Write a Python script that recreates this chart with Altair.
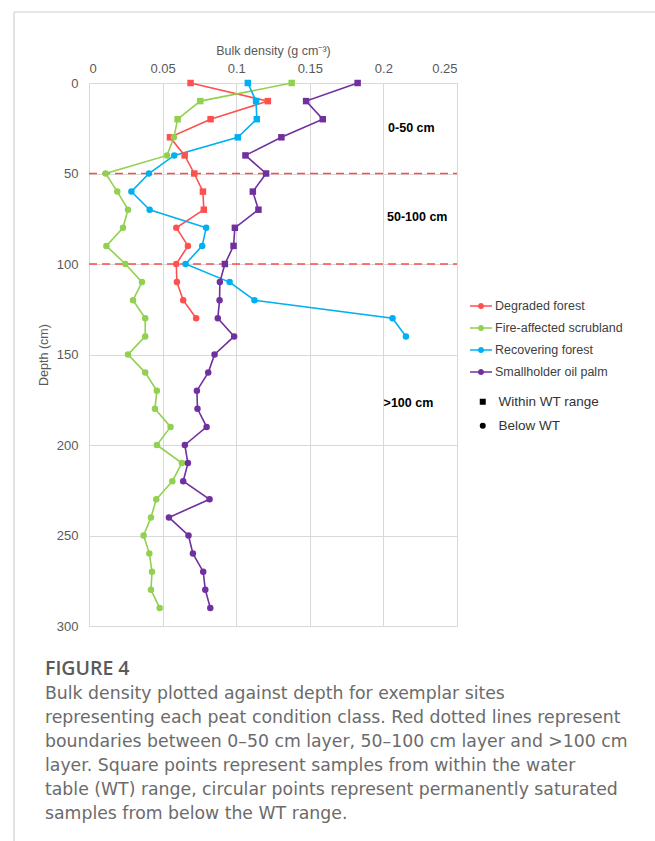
import altair as alt
import pandas as pd

# ---- data -----------------------------------------------------------------
site_names = ["Degraded forest", "Fire-affected scrubland",
              "Recovering forest", "Smallholder oil palm"]
site_colors = ["#FF5050", "#92D050", "#00B0F0", "#7030A0"]

depth_step = 10  # cm between consecutive samples, starting at the surface

degraded_bd = [0.069, 0.1215, 0.0826, 0.055, 0.065, 0.0715, 0.0774, 0.078,
               0.0593, 0.0672, 0.0593, 0.0597, 0.064, 0.0728]
fire_bd = [0.1377, 0.0756, 0.0602, 0.0577, 0.053, 0.0113, 0.0192, 0.0265,
           0.0231, 0.0118, 0.0247, 0.036, 0.0299, 0.0382, 0.0382, 0.0265,
           0.0382, 0.0461, 0.0448, 0.0554, 0.0461, 0.0631, 0.0566, 0.0457,
           0.0421, 0.0371, 0.041, 0.0428, 0.0421, 0.048]
recovering_bd = [0.1079, 0.1135, 0.114, 0.1011, 0.0579, 0.0407, 0.0288,
                 0.0412, 0.0796, 0.0769, 0.0656, 0.0955, 0.1124, 0.2062,
                 0.2153]
oilpalm_bd = [0.1825, 0.1475, 0.1588, 0.1307, 0.1063, 0.1203, 0.1113, 0.1151,
              0.0991, 0.0982, 0.0923, 0.0889, 0.0887, 0.0875, 0.0986, 0.0853,
              0.081, 0.0733, 0.0737, 0.0799, 0.0651, 0.0672, 0.064, 0.0819,
              0.0543, 0.0676, 0.0706, 0.0776, 0.079, 0.0824]

# deepest sample (cm) that still lies within the water-table range, per site
wt_lower_depth = [70, 20, 30, 100]

wt_classes = ["Within WT range", "Below WT"]

layer_bounds = [50, 100]
layer_labels = ["0-50 cm", "50-100 cm", ">100 cm"]
layer_label_depth = [25, 74, 177]
layer_label_bd = [0.219, 0.223, 0.217]

x_ticks = [0, 0.05, 0.1, 0.15, 0.2, 0.25]
y_ticks = [0, 50, 100, 150, 200, 250, 300]

caption_title = "FIGURE 4"
caption_lines = [
    "Bulk density plotted against depth for exemplar sites",
    "representing each peat condition class. Red dotted lines represent",
    "boundaries between 0\u201350 cm layer, 50\u2013100 cm layer and >100 cm",
    "layer. Square points represent samples from within the water",
    "table (WT) range, circular points represent permanently saturated",
    "samples from below the WT range.",
]

# ---- tidy table -----------------------------------------------------------
rows = []
for name, values, wt_low in zip(site_names,
                                [degraded_bd, fire_bd, recovering_bd, oilpalm_bd],
                                wt_lower_depth):
    for i, v in enumerate(values):
        d = i * depth_step
        rows.append({"site": name, "depth": d, "bd": v,
                     "wt": wt_classes[0] if d <= wt_low else wt_classes[1]})
df = pd.DataFrame(rows)

bounds_df = pd.DataFrame({"depth": layer_bounds})
labels_df = pd.DataFrame({"label": layer_labels, "depth": layer_label_depth,
                          "bd": layer_label_bd})

# ---- layout ---------------------------------------------------------------
W, H = 368, 543
PAD = {"left": 89, "top": 83, "right": 198, "bottom": 215}
FONT = "Liberation Sans"
CAPTION_FONT = "Open Sans"
CAPTION_BODY_FONT = "DejaVu Sans"
GRID = "#d9d9d9"

x_scale = alt.Scale(domain=[0, 0.25], nice=False, zero=True)
y_scale = alt.Scale(domain=[0, 300], nice=False, reverse=True)

x_enc = alt.X("bd:Q", scale=x_scale,
              axis=alt.Axis(orient="top", values=x_ticks, format="~g",
                            title="Bulk density (g cm\u207b\u00b3)",
                            titlePadding=5, labelPadding=8))
y_enc = alt.Y("depth:Q", scale=y_scale,
              axis=alt.Axis(orient="left", values=y_ticks,
                            title="Depth (cm)", titlePadding=6,
                            labelPadding=11))

color_scale = alt.Scale(domain=site_names, range=site_colors)
shape_scale = alt.Scale(domain=wt_classes, range=["square", "circle"])

# legend symbol: a thin bar (the line) with a dot in the middle
line_dot = ("M-1,-0.065H1V0.065H-1Z"
            "M0.28,0A0.28,0.28,0,1,1,-0.28,0A0.28,0.28,0,1,1,0.28,0Z")

site_legend = alt.Legend(
    title=None, orient="none", legendX=381, legendY=212,
    symbolType=line_dot, symbolSize=484, symbolStrokeWidth=0,
    labelFont=FONT, labelFontSize=12.5, labelColor="#404040",
    labelOffset=3, rowPadding=4, padding=0,
)

page_frame = alt.Chart(pd.DataFrame({"k": [0]})).mark_rule(
    color="#d2d2d2", strokeWidth=1.2
)
frame_top = page_frame.encode(x=alt.value(-75), x2=alt.value(566),
                              y=alt.value(-71))
frame_left = page_frame.encode(x=alt.value(-75), y=alt.value(-71),
                               y2=alt.value(758))

bound_rules = alt.Chart(bounds_df).mark_rule(
    color="#FF4A4A", strokeWidth=1.3, strokeDash=[8, 5]
).encode(y=alt.Y("depth:Q", scale=y_scale), x=alt.value(0), x2=alt.value(W))

lines = alt.Chart(df).mark_line(strokeWidth=1.6).encode(
    x=x_enc, y=y_enc,
    color=alt.Color("site:N", scale=color_scale, sort=site_names,
                    legend=site_legend),
    order=alt.Order("depth:Q"),
)

points = alt.Chart(df).mark_point(filled=True, opacity=1, size=42).encode(
    x=x_enc, y=y_enc,
    color=alt.Color("site:N", scale=color_scale, sort=site_names,
                    legend=site_legend),
    shape=alt.Shape("wt:N", scale=shape_scale, sort=wt_classes,
                    legend=alt.Legend(
                        title=None, orient="none", legendX=387, legendY=312,
                        symbolSize=36, symbolFillColor="black",
                        symbolStrokeColor="black", symbolStrokeWidth=0,
                        labelFont=FONT, labelFontSize=13.5,
                        labelColor="#333333", labelOffset=9,
                        rowPadding=9, padding=0)),
)

region_labels = alt.Chart(labels_df).mark_text(
    font=FONT, fontSize=12.5, fontWeight="bold", color="black"
).encode(x=alt.X("bd:Q", scale=x_scale), y=alt.Y("depth:Q", scale=y_scale),
         text="label:N")

chart = alt.layer(
    frame_top, frame_left, bound_rules, lines, points, region_labels
).properties(
    width=W, height=H,
    autosize=alt.AutoSizeParams(type="none"),
    padding=PAD,
    title=alt.TitleParams(
        text=caption_title, subtitle=caption_lines,
        orient="bottom", anchor="start", frame="group",
        dx=-44, offset=-182,
        font=CAPTION_FONT, fontSize=19.5, fontWeight=600, color="#5a5a5a",
        subtitleFont=CAPTION_BODY_FONT, subtitleFontSize=17.3,
        subtitleColor="#6b6b6b", subtitleFontWeight=400,
        subtitleLineHeight=24, subtitlePadding=6,
    ),
).configure_view(
    stroke=GRID, strokeWidth=1
).configure_axis(
    grid=True, gridColor=GRID, gridWidth=1, domain=False, ticks=False,
    labelFont=FONT, labelFontSize=13, labelColor="#595959",
    titleFont=FONT, titleFontSize=12.5, titleFontWeight="normal",
    titleColor="#595959",
)

chart.save("out.html", embed_options={"renderer": "svg", "actions": False})
